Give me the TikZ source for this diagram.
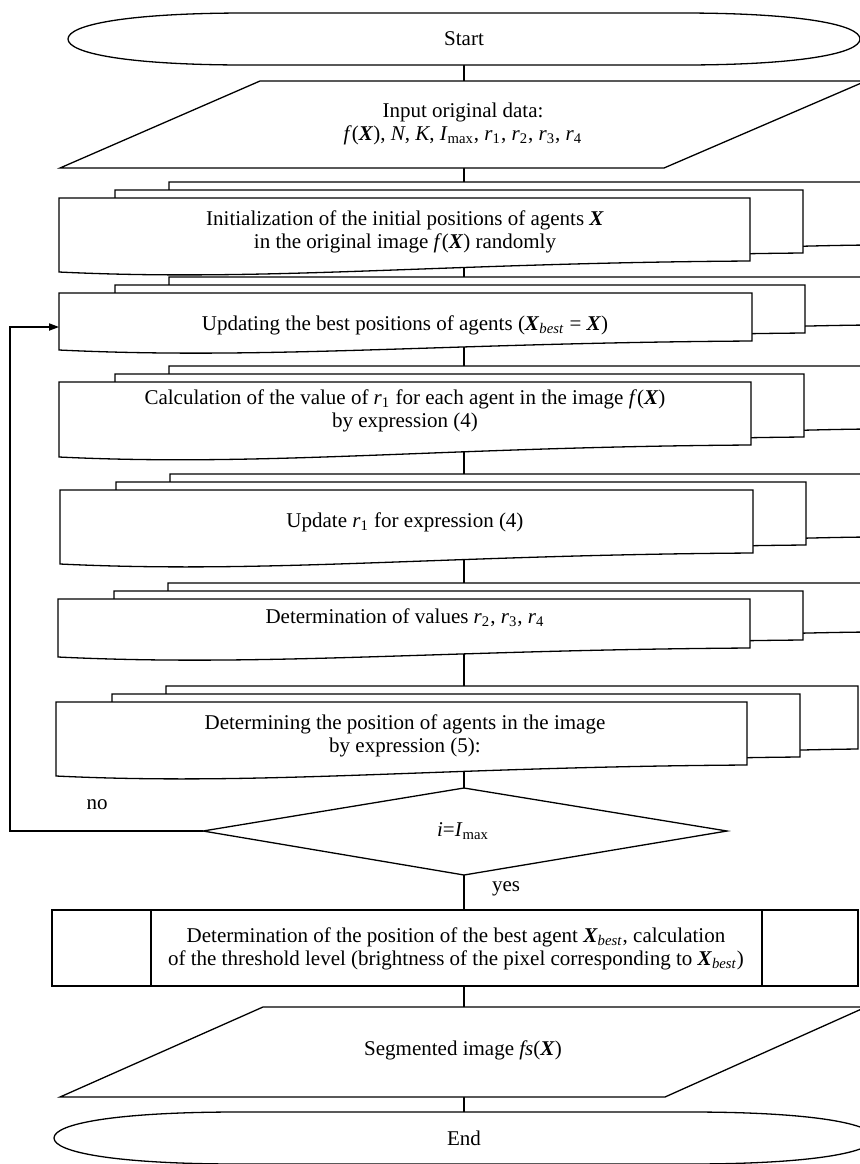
\documentclass[tikz,border=0pt]{standalone}
\usepackage{fontspec}
\setmainfont{Liberation Serif}
\usetikzlibrary{arrows.meta}
\pgfdeclarelayer{bg}
\pgfsetlayers{bg,main}

\newcommand{\bX}{\textbf{\textit{X}}}
\newcommand{\Xbest}{\textbf{\textit{X}}\textsubscript{\textit{best}}}

\tikzset{
  shapeline/.style={draw=black, line width=0.65pt, fill=white},
  conn/.style={draw=black, line width=0.65pt},
  lbl/.style={align=center, font=\fontsize{10.5}{11.5}\selectfont, inner sep=0pt},
}

% one document layer: L R T H D
\newcommand{\docshape}[5]{%
  \path[shapeline] ({#1},{#3}) -- ({#2},{#3}) -- ({#2},{#3+#4-#5})
    .. controls ({#1+0.55*(#2-#1)},{#3+#4-#5+2}) and ({#1+0.3*(#2-#1)},{#3+#4+10}) .. ({#1},{#3+#4}) -- cycle;}
% multi document: L R T H D backR
\newcommand{\multidoc}[6]{%
  \docshape{#1+110}{#6}{#3-16}{#4}{#5}
  \docshape{#1+56}{#2+53}{#3-8}{#4}{#5}
  \docshape{#1}{#2}{#3}{#4}{#5}}
% terminator: cx cy a b
\newcommand{\terminator}[4]{%
  \path[shapeline] ({#1-#3},{#2}) .. controls ({#1-#3},{#2-0.55*#4}) and ({#1-0.85*#3},{#2-#4}) .. ({#1-0.55*#3},{#2-#4})
    -- ({#1+0.55*#3},{#2-#4}) .. controls ({#1+0.85*#3},{#2-#4}) and ({#1+#3},{#2-0.55*#4}) .. ({#1+#3},{#2})
    .. controls ({#1+#3},{#2+0.55*#4}) and ({#1+0.85*#3},{#2+#4}) .. ({#1+0.55*#3},{#2+#4})
    -- ({#1-0.55*#3},{#2+#4}) .. controls ({#1-0.85*#3},{#2+#4}) and ({#1-#3},{#2+0.55*#4}) .. ({#1-#3},{#2}) -- cycle;}

\begin{document}
\begin{tikzpicture}[x=0.5pt,y=-0.5pt]
\useasboundingbox (0,0) rectangle (860,1164);
\clip (0,0) rectangle (860,1164);

% ---- shapes ----
\terminator{464}{39}{396}{26}
\path[shapeline] (260,81) -- (866,81) -- (664,168) -- (60,168) -- cycle;
\multidoc{59}{750}{198}{74}{11}{868}
\multidoc{59}{752}{293}{57}{9}{868}
\multidoc{59}{751}{382}{75}{12}{868}
\multidoc{60}{753}{490}{74}{11}{868}
\multidoc{58}{750}{599}{58}{9}{868}
\multidoc{56}{747}{702}{74}{11}{858}
\path[shapeline] (464,788) -- (727,831) -- (464,875) -- (203,831) -- cycle;
\path[shapeline] (52,910) rectangle (858,986);
\draw[conn] (151,910) -- (151,986) (762,910) -- (762,986);
\path[shapeline] (263,1007) -- (866,1007) -- (665,1097) -- (60,1097) -- cycle;
\terminator{464}{1138}{410}{26}

% ---- text nodes ----
\node[lbl] (start) at (464,39) {Start};
\node[lbl] (in) at (463,124) {Input original data:\\\textit{f}(\bX), \textit{N}, \textit{K}, \textit{I}\textsubscript{max}, \textit{r}\textsubscript{1}, \textit{r}\textsubscript{2}, \textit{r}\textsubscript{3}, \textit{r}\textsubscript{4}};
\node[lbl] (d1) at (405,232) {Initialization of the initial positions of agents \bX\\in the original image \textit{f}(\bX) randomly};
\node[lbl] (d2) at (405,325) {Updating the best positions of agents (\Xbest{} = \bX)};
\node[lbl] (d3) at (405,411) {Calculation of the value of \textit{r}\textsubscript{1} for each agent in the image \textit{f}(\bX)\\by expression (4)};
\node[lbl] (d4) at (405,522) {Update \textit{r}\textsubscript{1} for expression (4)};
\node[lbl] (d5) at (405,618) {Determination of values \textit{r}\textsubscript{2}, \textit{r}\textsubscript{3}, \textit{r}\textsubscript{4}};
\node[lbl] (d6) at (405,736) {Determining the position of agents in the image\\by expression (5):};
\node[lbl] (dia) at (463,831) {\textit{i}=\textit{I}\textsubscript{max}};
\node[lbl] (box) at (456,949) {Determination of the position of the best agent \Xbest, calculation\\of the threshold level (brightness of the pixel corresponding to \Xbest)};
\node[lbl] (out) at (463,1050) {Segmented image \textit{fs}(\bX)};
\node[lbl] (end) at (464,1138) {End};
\node[lbl] (no) at (97,805) {no};
\node[lbl] (yes) at (506,889) {yes};

% ---- connector anchor coordinates ----
\coordinate (c0) at (464,39);
\coordinate (c1) at (464,124);
\coordinate (c2) at (464,230);
\coordinate (c3) at (464,320);
\coordinate (c4) at (464,410);
\coordinate (c5) at (464,520);
\coordinate (c6) at (464,620);
\coordinate (c7) at (464,735);
\coordinate (c8) at (464,831);
\coordinate (c9) at (464,950);
\coordinate (c10) at (464,1050);
\coordinate (c11) at (464,1138);
\coordinate (diaL) at (203,831);
\coordinate (lp1) at (10,831);
\coordinate (lp2) at (10,327);
\coordinate (d2in) at (59,327);

\begin{pgfonlayer}{bg}
\draw[conn] (c0) -- (c1) -- (c2) -- (c3) -- (c4) -- (c5) -- (c6) -- (c7) -- (c8) -- (c9) -- (c10) -- (c11);
\end{pgfonlayer}
\draw[conn,-{Triangle[length=5pt,width=3.6pt]}] (diaL) -- (lp1) -- (lp2) -- (d2in);
\end{tikzpicture}
\end{document}
